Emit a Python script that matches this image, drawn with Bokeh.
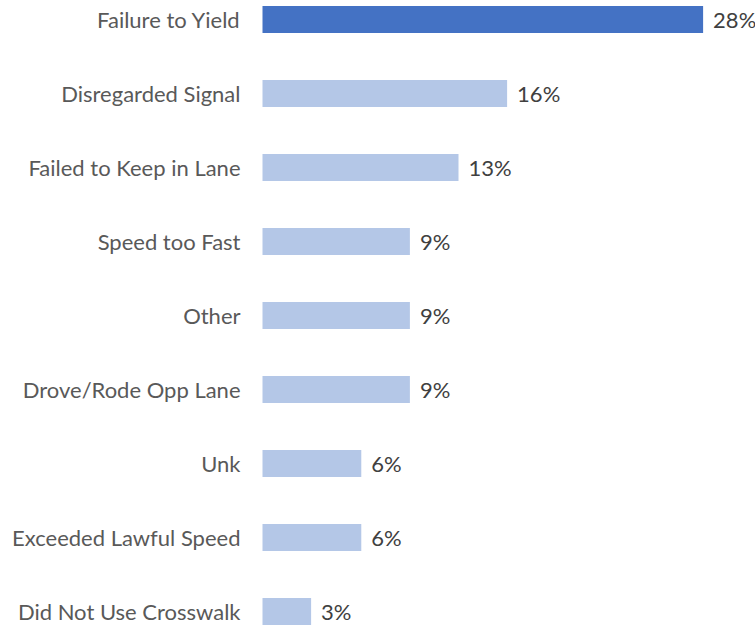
from bokeh.plotting import figure
from bokeh.models import ColumnDataSource, Range1d
from bokeh.core.properties import value
from bokeh.embed import file_html
from bokeh.resources import INLINE

categories = ["Failure to Yield", "Disregarded Signal", "Failed to Keep in Lane",
              "Speed too Fast", "Other", "Drove/Rode Opp Lane", "Unk",
              "Exceeded Lawful Speed", "Did Not Use Crosswalk"]
shares = [28.1, 15.6, 12.5, 9.4, 9.4, 9.4, 6.3, 6.3, 3.1]
value_labels = ["28%", "16%", "13%", "9%", "9%", "9%", "6%", "6%", "3%"]
bar_colors = ["#4472C4"] + ["#B4C7E7"] * 8

W, H = 755, 630
px_per_unit = 15.68
zero_px = 262
step = 74.0
top_px = 19.0

rows = list(range(len(categories)))
src = ColumnDataSource(dict(y=rows, v=shares, cat=categories, lab=value_labels, col=bar_colors))

x0 = -zero_px / px_per_unit
x1 = (W - zero_px) / px_per_unit
y_top = -top_px / step
y_bot = y_top + H / step

p = figure(width=W, height=H, output_backend="svg", toolbar_location=None,
           x_range=Range1d(x0, x1), y_range=Range1d(y_bot, y_top),
           min_border=0, min_border_left=0, min_border_right=0,
           min_border_top=0, min_border_bottom=0)
p.axis.visible = False
p.grid.visible = False
p.outline_line_color = None
p.background_fill_color = "white"
p.border_fill_color = "white"

p.hbar(y="y", left=0, right="v", height=27 / step, fill_color="col", line_color=None, source=src)

p.text(x=0, y="y", text="cat", x_offset=-22, text_align="right", text_baseline="middle",
       text_font=value("Lato"), text_font_size="22px", text_color="#595959", source=src)
p.text(x="v", y="y", text="lab", x_offset=10, text_align="left", text_baseline="middle",
       text_font=value("Lato"), text_font_size="22px", text_color="#404040", source=src)

open("out.html", "w").write(file_html(p, INLINE))
